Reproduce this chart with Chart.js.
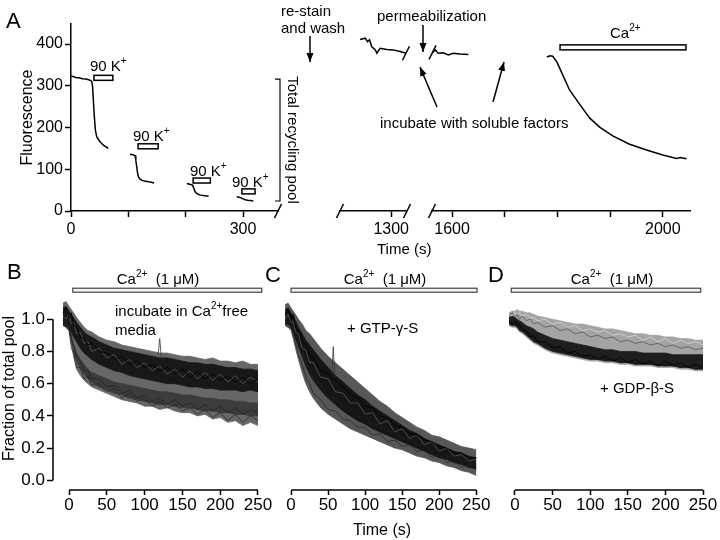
<!DOCTYPE html>
<html>
<head>
<meta charset="utf-8">
<script src="https://cdn.jsdelivr.net/npm/chart.js@4.4.0/dist/chart.umd.min.js"></script>
<style>
  body { margin: 0; background: #fff; }
  #fig { position: relative; width: 720px; height: 540px; overflow: hidden;
         font-family: "Liberation Sans", Arial, sans-serif; color: #000; }
  #fig canvas, #fig svg { position: absolute; left: 0; top: 0; }
  .t { position: absolute; font-size: 15px; line-height: 17px; white-space: nowrap; transform: translateY(-50%); }
  .c { transform: translate(-50%, -50%); }
  .s { font-size: 10px; position: relative; top: -7px; }
  .L { font-size: 22px; line-height: 24px; }
</style>
</head>
<body>
<div id="fig">
  <canvas id="a1" width="720" height="540"></canvas>
  <canvas id="a2" width="720" height="540"></canvas>
  <canvas id="a3" width="720" height="540"></canvas>
  <canvas id="pb" width="720" height="540"></canvas>
  <canvas id="pc" width="720" height="540"></canvas>
  <canvas id="pd" width="720" height="540"></canvas>

  <svg width="720" height="540">
    <defs>
      <marker id="ah" markerWidth="10" markerHeight="8" refX="9" refY="3.5" orient="auto" markerUnits="userSpaceOnUse">
        <path d="M0,0 L9,3.5 L0,7 z" fill="#000"/>
      </marker>
    </defs>
    <g stroke="#000" stroke-width="1.5" marker-end="url(#ah)">
      <line x1="310" y1="36" x2="310" y2="62"/>
      <line x1="423" y1="25" x2="423" y2="52"/>
      <line x1="437" y1="107" x2="420" y2="67"/>
      <line x1="493" y1="102" x2="504" y2="62"/>
    </g>
  </svg>

  <div class="t L" style="left:6px;top:21px">A</div>
  <div class="t" style="left:281px;top:10px">re-stain</div>
  <div class="t" style="left:281px;top:27px">and wash</div>
  <div class="t" style="left:377px;top:15px">permeabilization</div>
  <div class="t" style="left:380px;top:122px">incubate with soluble factors</div>
  <div class="t" style="left:610px;top:33px">Ca<span class="s">2+</span></div>
  <div class="t" style="left:90px;top:66px">90 K<span class="s">+</span></div>
  <div class="t" style="left:133px;top:136px">90 K<span class="s">+</span></div>
  <div class="t" style="left:190px;top:171px">90 K<span class="s">+</span></div>
  <div class="t" style="left:232px;top:182px">90 K<span class="s">+</span></div>
  <div class="t" style="left:377px;top:248px">Time (s)</div>
  <div class="t c" style="left:293px;top:140px;transform:translate(-50%,-50%) rotate(90deg)">Total recycling pool</div>

  <div class="t L" style="left:7px;top:272px">B</div>
  <div class="t L" style="left:265px;top:275px">C</div>
  <div class="t L" style="left:488px;top:275px">D</div>
  <div class="t c" style="left:158px;top:279px">Ca<span class="s">2+</span>&nbsp;&nbsp;(1 μM)</div>
  <div class="t c" style="left:385px;top:279px">Ca<span class="s">2+</span>&nbsp;&nbsp;(1 μM)</div>
  <div class="t c" style="left:612px;top:279px">Ca<span class="s">2+</span>&nbsp;&nbsp;(1 μM)</div>
  <div class="t" style="left:115px;top:311px">incubate in Ca<span class="s">2+</span>free</div>
  <div class="t" style="left:115px;top:329px">media</div>
  <div class="t" style="left:347px;top:327px">+ GTP-γ-S</div>
  <div class="t" style="left:600px;top:387px">+ GDP-β-S</div>
</div>

<script>
// ---- panel A: fluorescence traces (time in s, fluorescence a.u.) ----
const A1_T1 = [0, 4, 8, 14, 20, 26, 32, 36, 37.6, 39, 40.7, 42.5, 44.8, 50.6, 57, 65];
const A1_V1 = [323, 322, 320, 319, 317, 316, 314, 311, 299, 266, 226, 194, 178, 166, 157, 150];
const A1_T2 = [103, 108, 111.7, 113, 114.6, 116, 117.5, 120, 123, 128, 135, 140, 145];
const A1_V2 = [136, 135, 133, 122, 106, 92, 82, 77, 74, 72, 70, 69, 67];
const A1_T3 = [202, 207, 212, 214, 216.4, 219, 222, 226, 231, 236, 240];
const A1_V3 = [66, 64, 62, 55, 46, 42, 40, 38, 37, 36, 36];
const A1_T4 = [289, 293, 296, 300, 304, 308, 313, 318];
const A1_V4 = [34, 33, 32, 29, 27, 26, 25, 24];

const A2_T = [1241, 1251, 1255, 1259, 1263, 1270, 1273, 1279, 1292, 1304, 1317, 1328];
const A2_V = [411, 414, 406, 410, 394, 386, 378, 390, 387, 386, 382, 378];

const A3_T1 = [1563, 1568, 1574, 1583, 1593, 1602, 1615, 1631];
const A3_V1 = [380, 386, 378, 379, 374, 378, 376, 375];
const A3_T2 = [1780, 1786, 1791, 1799, 1810, 1823, 1842, 1861, 1880, 1905, 1937, 1969, 2000, 2026, 2033, 2045];
const A3_V2 = [369, 372, 371, 357, 326, 290, 256, 223, 201, 180, 160, 146, 134, 126, 128, 125];

// stimulus windows and pool bracket
const K_ON = [40, 117, 213, 298];
const K_OFF = [73, 152, 243, 321];
const K_LEVEL = [319, 155, 73, 47];
const CA_A = [1805, 2044];
const CA_A_LEVEL = 392;
const POOL = [24, 316];

// axis ticks
const A_Y_TICKS = [0, 100, 200, 300, 400];
const A1_X_TICKS = [0, 100, 200, 300];
const A1_X_LABELS = [0, 300];
const A2_X_TICKS = [1300];
const A3_X_TICKS = [1600, 1700, 1800, 1900, 2000];
const A3_X_LABELS = [1600, 2000];
const F_Y_TICKS = [0, 0.2, 0.4, 0.6, 0.8, 1.0];
const F_X_TICKS = [0, 50, 100, 150, 200, 250];

// ---- panels B-D: fraction of total pool, envelopes and sample traces ----
const TB = [-8, -4, 0, 3, 6, 10, 15, 20, 25, 30, 40, 50, 60, 70, 80, 90, 100, 110, 120, 130, 140, 150, 160, 170, 180, 190, 200, 210, 220, 230, 240, 250];

const B_OUT_TOP = [1.10, 1.11, 1.08, 1.06, 1.04, 1.01, 0.98, 0.95, 0.93, 0.92, 0.89, 0.87, 0.86, 0.84, 0.83, 0.82, 0.81, 0.80, 0.79, 0.79, 0.78, 0.77, 0.77, 0.76, 0.75, 0.76, 0.74, 0.74, 0.73, 0.74, 0.72, 0.72];
const B_OUT_BOT = [0.97, 0.95, 0.93, 0.85, 0.77, 0.69, 0.65, 0.62, 0.60, 0.58, 0.56, 0.54, 0.52, 0.50, 0.49, 0.48, 0.46, 0.46, 0.44, 0.45, 0.43, 0.42, 0.42, 0.40, 0.41, 0.38, 0.39, 0.36, 0.37, 0.34, 0.36, 0.34];
const B_HI_TOP = [1.07, 1.08, 1.05, 1.03, 1.01, 0.98, 0.95, 0.92, 0.90, 0.89, 0.86, 0.84, 0.82, 0.81, 0.80, 0.79, 0.78, 0.77, 0.76, 0.76, 0.75, 0.74, 0.73, 0.73, 0.72, 0.72, 0.71, 0.70, 0.70, 0.69, 0.69, 0.68];
const B_HI_BOT = [0.97, 0.96, 0.95, 0.92, 0.89, 0.86, 0.82, 0.79, 0.77, 0.75, 0.72, 0.70, 0.68, 0.67, 0.65, 0.64, 0.63, 0.62, 0.61, 0.60, 0.60, 0.59, 0.58, 0.58, 0.57, 0.57, 0.56, 0.56, 0.56, 0.55, 0.56, 0.55];
const B_LO_TOP = [0.99, 0.98, 0.96, 0.90, 0.84, 0.79, 0.75, 0.72, 0.69, 0.67, 0.65, 0.63, 0.61, 0.60, 0.59, 0.58, 0.57, 0.56, 0.55, 0.55, 0.54, 0.53, 0.53, 0.52, 0.51, 0.51, 0.50, 0.50, 0.49, 0.49, 0.48, 0.48];
const B_LO_BOT = [0.96, 0.95, 0.93, 0.87, 0.80, 0.74, 0.69, 0.66, 0.63, 0.61, 0.58, 0.56, 0.54, 0.53, 0.51, 0.50, 0.49, 0.48, 0.47, 0.47, 0.46, 0.45, 0.45, 0.44, 0.43, 0.43, 0.42, 0.42, 0.41, 0.41, 0.40, 0.40];
const B_TR1 = [1.04, 1.07, 1.01, 1.04, 0.96, 0.95, 0.89, 0.88, 0.84, 0.85, 0.80, 0.79, 0.75, 0.77, 0.72, 0.74, 0.70, 0.72, 0.68, 0.70, 0.66, 0.69, 0.64, 0.67, 0.63, 0.66, 0.62, 0.65, 0.61, 0.64, 0.60, 0.63];
const B_TR2 = [0.99, 0.96, 0.97, 0.88, 0.84, 0.77, 0.74, 0.68, 0.68, 0.63, 0.63, 0.58, 0.59, 0.54, 0.56, 0.51, 0.53, 0.49, 0.51, 0.47, 0.50, 0.46, 0.48, 0.44, 0.47, 0.43, 0.46, 0.42, 0.45, 0.41, 0.44, 0.42];
const B_TR3 = [1.02, 1.00, 1.03, 0.97, 0.98, 0.91, 0.92, 0.85, 0.86, 0.80, 0.82, 0.76, 0.78, 0.72, 0.75, 0.70, 0.73, 0.68, 0.71, 0.66, 0.69, 0.64, 0.68, 0.63, 0.67, 0.62, 0.66, 0.61, 0.65, 0.60, 0.64, 0.61];
const B_TR4 = [0.97, 0.99, 0.94, 0.82, 0.79, 0.70, 0.70, 0.63, 0.65, 0.59, 0.60, 0.55, 0.57, 0.51, 0.54, 0.49, 0.51, 0.46, 0.49, 0.45, 0.47, 0.43, 0.45, 0.41, 0.44, 0.39, 0.42, 0.37, 0.41, 0.36, 0.40, 0.37];
const B_SPIKE_T = [118, 120, 122];
const B_SPIKE_V = [0.78, 0.88, 0.77];

const C_OUT_TOP = [1.09, 1.10, 1.07, 1.05, 1.03, 1.00, 0.97, 0.93, 0.91, 0.88, 0.82, 0.77, 0.73, 0.69, 0.65, 0.61, 0.57, 0.53, 0.49, 0.46, 0.42, 0.39, 0.36, 0.33, 0.31, 0.28, 0.27, 0.25, 0.23, 0.21, 0.20, 0.19];
const C_OUT_BOT = [0.96, 0.95, 0.93, 0.88, 0.82, 0.75, 0.67, 0.60, 0.55, 0.51, 0.45, 0.41, 0.38, 0.35, 0.32, 0.30, 0.28, 0.26, 0.24, 0.22, 0.20, 0.19, 0.17, 0.15, 0.14, 0.12, 0.11, 0.09, 0.08, 0.06, 0.05, 0.03];
const C_CORE_TOP = [1.06, 1.07, 1.04, 1.02, 0.99, 0.95, 0.91, 0.87, 0.84, 0.81, 0.75, 0.70, 0.65, 0.61, 0.57, 0.53, 0.50, 0.46, 0.43, 0.40, 0.37, 0.34, 0.31, 0.29, 0.26, 0.24, 0.22, 0.20, 0.18, 0.17, 0.15, 0.14];
const C_CORE_BOT = [0.97, 0.97, 0.95, 0.92, 0.88, 0.83, 0.77, 0.71, 0.66, 0.62, 0.56, 0.51, 0.47, 0.43, 0.40, 0.37, 0.35, 0.32, 0.30, 0.28, 0.26, 0.24, 0.22, 0.20, 0.18, 0.16, 0.14, 0.13, 0.11, 0.10, 0.08, 0.07];
const C_TR1 = [1.03, 1.06, 1.00, 1.03, 0.95, 0.93, 0.86, 0.84, 0.77, 0.76, 0.68, 0.66, 0.62, 0.58, 0.53, 0.51, 0.46, 0.45, 0.40, 0.39, 0.34, 0.33, 0.29, 0.28, 0.25, 0.24, 0.21, 0.20, 0.17, 0.17, 0.14, 0.14];
const C_TR2 = [0.99, 0.98, 0.99, 0.94, 0.92, 0.84, 0.82, 0.72, 0.70, 0.63, 0.60, 0.52, 0.51, 0.45, 0.45, 0.39, 0.40, 0.34, 0.35, 0.30, 0.30, 0.26, 0.26, 0.22, 0.22, 0.18, 0.19, 0.15, 0.15, 0.12, 0.12, 0.09];
const C_TR3 = [1.00, 1.03, 0.98, 0.99, 0.92, 0.91, 0.82, 0.81, 0.73, 0.73, 0.64, 0.63, 0.55, 0.54, 0.48, 0.48, 0.41, 0.42, 0.35, 0.37, 0.30, 0.32, 0.26, 0.28, 0.22, 0.24, 0.18, 0.20, 0.15, 0.16, 0.12, 0.13];
const C_TR4 = [0.97, 0.95, 0.95, 0.90, 0.85, 0.78, 0.72, 0.64, 0.60, 0.54, 0.50, 0.44, 0.43, 0.38, 0.37, 0.33, 0.33, 0.28, 0.29, 0.24, 0.25, 0.21, 0.22, 0.18, 0.19, 0.14, 0.16, 0.11, 0.13, 0.08, 0.10, 0.06];
const C_SPIKE_T = [55, 57, 59];
const C_SPIKE_V = [0.66, 0.83, 0.64];

const D_OUT_TOP = [1.04, 1.05, 1.05, 1.06, 1.05, 1.05, 1.04, 1.04, 1.03, 1.02, 1.01, 1.00, 0.99, 0.98, 0.97, 0.97, 0.96, 0.95, 0.94, 0.94, 0.93, 0.92, 0.91, 0.91, 0.90, 0.90, 0.89, 0.89, 0.88, 0.88, 0.87, 0.87];
const D_OUT_BOT = [0.96, 0.95, 0.95, 0.94, 0.92, 0.91, 0.89, 0.87, 0.85, 0.84, 0.81, 0.79, 0.78, 0.77, 0.76, 0.75, 0.74, 0.74, 0.73, 0.73, 0.72, 0.72, 0.71, 0.71, 0.71, 0.70, 0.70, 0.70, 0.69, 0.69, 0.68, 0.68];
const D_CORE_TOP = [1.01, 1.02, 1.01, 1.00, 0.99, 0.98, 0.96, 0.95, 0.94, 0.92, 0.90, 0.88, 0.87, 0.86, 0.85, 0.84, 0.83, 0.82, 0.81, 0.81, 0.80, 0.80, 0.80, 0.79, 0.79, 0.79, 0.79, 0.78, 0.78, 0.78, 0.78, 0.78];
const D_CORE_BOT = [0.97, 0.96, 0.96, 0.95, 0.93, 0.92, 0.90, 0.88, 0.86, 0.85, 0.82, 0.80, 0.79, 0.78, 0.77, 0.76, 0.75, 0.75, 0.74, 0.74, 0.73, 0.73, 0.72, 0.72, 0.72, 0.71, 0.71, 0.71, 0.70, 0.70, 0.69, 0.69];
const D_TR1 = [1.02, 1.04, 1.01, 1.03, 1.00, 1.02, 0.99, 1.00, 0.97, 0.98, 0.95, 0.96, 0.93, 0.94, 0.91, 0.92, 0.89, 0.90, 0.88, 0.89, 0.86, 0.87, 0.85, 0.86, 0.84, 0.85, 0.83, 0.84, 0.82, 0.83, 0.81, 0.82];
const D_TR2 = [0.99, 0.97, 0.99, 0.96, 0.97, 0.93, 0.93, 0.89, 0.90, 0.86, 0.86, 0.82, 0.83, 0.79, 0.80, 0.77, 0.78, 0.75, 0.77, 0.74, 0.76, 0.73, 0.75, 0.72, 0.74, 0.71, 0.74, 0.71, 0.73, 0.70, 0.72, 0.70];
const D_TR3 = [1.03, 1.02, 1.04, 1.03, 1.04, 1.02, 1.03, 1.01, 1.01, 0.99, 1.00, 0.97, 0.98, 0.95, 0.96, 0.93, 0.94, 0.92, 0.93, 0.90, 0.91, 0.89, 0.90, 0.87, 0.89, 0.86, 0.88, 0.85, 0.87, 0.85, 0.86, 0.84];
const D_TR4 = [0.98, 0.99, 0.97, 0.98, 0.95, 0.95, 0.92, 0.91, 0.88, 0.89, 0.84, 0.84, 0.80, 0.81, 0.78, 0.78, 0.76, 0.77, 0.75, 0.75, 0.73, 0.74, 0.72, 0.73, 0.72, 0.72, 0.71, 0.72, 0.70, 0.71, 0.69, 0.70];

const CA_B = [5, 255];
const CA_C = [0, 251];
const CA_D = [-5, 247];
const CA_LEVEL = 1.18;

Chart.defaults.font.family = '"Liberation Sans", Arial, sans-serif';
Chart.defaults.color = '#000';

const pts = (T, V) => T.map((t, i) => ({x: t, y: V[i]}));

const trace = (data, color, width) => ({
  data, borderColor: color, borderWidth: width, pointRadius: 0, showLine: true, fill: false, tension: 0
});
const band = (top, bot, color) => [
  {data: pts(TB, top), borderColor: color, backgroundColor: color, borderWidth: 0.8, pointRadius: 0, showLine: true, fill: '+1'},
  {data: pts(TB, bot), borderColor: color, borderWidth: 0.8, pointRadius: 0, showLine: true, fill: false}
];

function slash(ctx, x, y) {
  ctx.beginPath();
  ctx.moveTo(x - 3.5, y + 7);
  ctx.lineTo(x + 3.5, y - 7);
  ctx.stroke();
}

// axis lines over tick range, break marks, stimulus bars, pool bracket
const decor = {
  id: 'decor',
  afterDatasetsDraw(chart, args, o) {
    const ctx = chart.ctx, a = chart.chartArea;
    const xs = chart.scales.x, ys = chart.scales.y;
    ctx.save();
    ctx.strokeStyle = '#000';
    ctx.lineWidth = 1.5;
    if (o.axisLines) {
      const xt = xs.ticks, yt = ys.ticks;
      ctx.beginPath();
      ctx.moveTo(xs.getPixelForValue(xt[0].value), a.bottom);
      ctx.lineTo(xs.getPixelForValue(xt[xt.length - 1].value), a.bottom);
      if (ys.options.display) {
        ctx.moveTo(a.left, ys.getPixelForValue(yt[0].value));
        ctx.lineTo(a.left, ys.getPixelForValue(yt[yt.length - 1].value));
      }
      ctx.stroke();
    }
    (o.breaks || []).forEach(side => slash(ctx, side === 'left' ? a.left : a.right, a.bottom));
    (o.traceBreaks || []).forEach(tb => {
      const p = chart.getDatasetMeta(tb.ds).data;
      const e = tb.end === 'last' ? p[p.length - 1] : p[0];
      slash(ctx, e.x, e.y);
    });
    (o.bars || []).forEach(b => {
      const x0 = xs.getPixelForValue(b.t0), x1 = xs.getPixelForValue(b.t1);
      const y = ys.getPixelForValue(b.v);
      ctx.fillStyle = b.fill;
      ctx.strokeStyle = b.stroke;
      ctx.lineWidth = b.lw;
      ctx.fillRect(x0, y - b.h / 2, x1 - x0, b.h);
      ctx.strokeRect(x0, y - b.h / 2, x1 - x0, b.h);
    });
    if (o.bracket) {
      const x = a.right + 2;
      const y0 = ys.getPixelForValue(o.bracket[0]), y1 = ys.getPixelForValue(o.bracket[1]);
      ctx.strokeStyle = '#000';
      ctx.lineWidth = 1.2;
      ctx.beginPath();
      ctx.moveTo(x - 5, y1); ctx.lineTo(x, y1); ctx.lineTo(x, y0); ctx.lineTo(x - 5, y0);
      ctx.stroke();
    }
    ctx.restore();
  }
};

function xAxis(min, max, ticks, shown, size, h, opt) {
  opt = opt || {};
  return {
    type: 'linear', position: 'bottom', min, max,
    afterBuildTicks: s => { s.ticks = ticks.map(v => ({value: v})); },
    afterFit: s => { s.height = h; },
    ticks: {autoSkip: false, maxRotation: 0, padding: opt.pad, color: '#000', font: {size},
            callback: v => shown.includes(v) ? String(v) : ''},
    grid: {drawOnChartArea: false, tickLength: opt.tl, tickWidth: 1.5, tickColor: '#000'},
    border: {display: opt.border, width: 1.5, color: '#000'},
    title: opt.title ? {display: true, text: opt.title, color: '#000', font: {size: 16}, padding: 0} : {display: false}
  };
}

function yAxis(min, max, ticks, fmt, size, w, opt) {
  opt = opt || {};
  return {
    type: 'linear', display: opt.display !== false, min, max,
    afterBuildTicks: s => { s.ticks = ticks.map(v => ({value: v})); },
    afterFit: s => { s.width = w; },
    ticks: {autoSkip: false, padding: 2, color: '#000', font: {size}, callback: v => fmt(v)},
    grid: {drawOnChartArea: false, tickLength: opt.tl, tickWidth: 1.5, tickColor: '#000'},
    border: {display: opt.border, width: 1.5, color: '#000'},
    title: opt.title ? {display: true, text: opt.title, color: '#000', font: {size: 16}, padding: 0} : {display: false}
  };
}

function build(id, box, scales, datasets, decorOpts) {
  return new Chart(document.getElementById(id), {
    type: 'scatter',
    data: {datasets},
    options: {
      responsive: false, animation: false, events: [],
      layout: {padding: {left: box.pl, top: box.t, right: 720 - box.r, bottom: box.pb}},
      scales,
      plugins: {legend: {display: false}, tooltip: {enabled: false}, decor: decorOpts}
    },
    plugins: [decor]
  });
}

const aY = (w, show) => yAxis(0, 448, A_Y_TICKS, v => String(v), 16, w,
  {display: show, border: true, tl: 6, title: show ? 'Fluorescence' : null});
const fY = (w, show) => yAxis(-0.06, 1.2, F_Y_TICKS, v => v.toFixed(1), 17, w,
  {display: show, border: false, tl: 6, title: show ? 'Fraction of total pool' : null});
const kBars = K_ON.map((t, i) => ({t0: t, t1: K_OFF[i], v: K_LEVEL[i], h: 5, lw: 1.5, stroke: '#000', fill: '#fff'}));
const caBar = (w) => [{t0: w[0], t1: w[1], v: CA_LEVEL, h: 4, lw: 1.2, stroke: '#444', fill: '#f2f2f2'}];

// panel A, segment 1
build('a1', {pl: 18, t: 24, r: 278, pb: 289}, {
  x: xAxis(0, 361, A1_X_TICKS, A1_X_LABELS, 16, 40, {pad: 3, tl: 6, border: true}),
  y: aY(53, true)
}, [
  trace(pts(A1_T1, A1_V1), '#000', 1.5),
  trace(pts(A1_T2, A1_V2), '#000', 1.5),
  trace(pts(A1_T3, A1_V3), '#000', 1.5),
  trace(pts(A1_T4, A1_V4), '#000', 1.5)
], {breaks: ['right'], bars: kBars, bracket: POOL});

// panel A, segment 2
build('a2', {pl: 340, t: 24, r: 407, pb: 289}, {
  x: xAxis(1203, 1330, A2_X_TICKS, A2_X_TICKS, 16, 40, {pad: 3, tl: 6, border: true}),
  y: aY(0, false)
}, [
  trace(pts(A2_T, A2_V), '#000', 1.5)
], {breaks: ['left', 'right'], traceBreaks: [{ds: 0, end: 'last'}]});

// panel A, segment 3
build('a3', {pl: 432, t: 24, r: 690, pb: 289}, {
  x: xAxis(1562, 2051.6, A3_X_TICKS, A3_X_LABELS, 16, 40, {pad: 3, tl: 6, border: true}),
  y: aY(0, false)
}, [
  trace(pts(A3_T1, A3_V1), '#000', 1.5),
  trace(pts(A3_T2, A3_V2), '#000', 1.5)
], {breaks: ['left'], traceBreaks: [{ds: 0, end: 'first'}],
    bars: [{t0: CA_A[0], t1: CA_A[1], v: CA_A_LEVEL, h: 5, lw: 1.5, stroke: '#000', fill: '#fff'}]});

// panel B
build('pb', {pl: 0, t: 287, r: 262, pb: 10}, {
  x: xAxis(-21.2, 255.3, F_X_TICKS, F_X_TICKS, 17, 40, {pad: 0, tl: 5, border: false}),
  y: fY(53, true)
}, [
  trace(pts(B_SPIKE_T, B_SPIKE_V), '#333', 0.8),
  trace(pts(TB, B_TR1), '#000', 0.8),
  trace(pts(TB, B_TR2), '#222', 0.8),
  trace(pts(TB, B_TR3), '#666', 0.7),
  trace(pts(TB, B_TR4), '#222', 0.7),
  ...band(B_HI_TOP, B_HI_BOT, '#181818'),
  ...band(B_LO_TOP, B_LO_BOT, '#3c3c3c'),
  ...band(B_OUT_TOP, B_OUT_BOT, '#676767')
], {axisLines: true, bars: caBar(CA_B)});

// panel C
build('pc', {pl: 284, t: 287, r: 480, pb: 0}, {
  x: xAxis(-9.5, 255, F_X_TICKS, F_X_TICKS, 17, 50, {pad: 0, tl: 5, border: false, title: 'Time (s)'}),
  y: fY(0, false)
}, [
  trace(pts(C_SPIKE_T, C_SPIKE_V), '#333', 0.8),
  trace(pts(TB, C_TR1), '#000', 0.8),
  trace(pts(TB, C_TR2), '#222', 0.8),
  trace(pts(TB, C_TR3), '#666', 0.7),
  trace(pts(TB, C_TR4), '#222', 0.7),
  ...band(C_CORE_TOP, C_CORE_BOT, '#151515'),
  ...band(C_OUT_TOP, C_OUT_BOT, '#575757')
], {axisLines: true, bars: caBar(CA_C)});

// panel D
build('pd', {pl: 508, t: 287, r: 707, pb: 10}, {
  x: xAxis(-9.3, 255.3, F_X_TICKS, F_X_TICKS, 17, 40, {pad: 0, tl: 5, border: false}),
  y: fY(0, false)
}, [
  trace(pts(TB, D_TR1), '#555', 0.8),
  trace(pts(TB, D_TR2), '#000', 0.8),
  trace(pts(TB, D_TR3), '#ddd', 0.7),
  trace(pts(TB, D_TR4), '#111', 0.7),
  ...band(D_CORE_TOP, D_CORE_BOT, '#1e1e1e'),
  ...band(D_OUT_TOP, D_OUT_BOT, '#a4a4a4')
], {axisLines: true, bars: caBar(CA_D)});
</script>
</body>
</html>
